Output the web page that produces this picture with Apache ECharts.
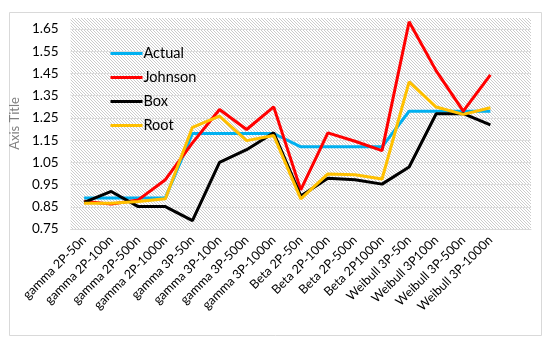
<!DOCTYPE html>
<html>
<head>
<meta charset="utf-8">
<script src="https://cdn.jsdelivr.net/npm/echarts@6/dist/echarts.min.js"></script>
<style>html,body{margin:0;padding:0;background:#fff;}#c{width:550px;height:342px;}</style>
</head>
<body>
<div id="c"></div>
<script>
const categories = ['gamma 2P-50n','gamma 2P-100n','gamma 2P-500n','gamma 2P-1000n','gamma 3P-50n','gamma 3P-100n','gamma 3P-500n','gamma 3P-1000n','Beta 2P-50n','Beta 2P-100n','Beta 2P-500n','Beta 2P1000n','Weibull 3P-50n','Weibull 3P100n','Weibull 3P-500n','Weibull 3P-1000n'];
const actual  = [0.89,0.89,0.89,0.89,1.18,1.18,1.18,1.18,1.12,1.12,1.12,1.12,1.28,1.28,1.28,1.28];
const johnson = [0.875,0.862,0.881,0.972,1.138,1.288,1.198,1.300,0.926,1.183,1.145,1.103,1.683,1.462,1.281,1.444];
const box     = [0.870,0.919,0.851,0.851,0.788,1.050,1.107,1.183,0.899,0.979,0.972,0.952,1.029,1.269,1.269,1.219];
const root    = [0.866,0.866,0.874,0.886,1.208,1.258,1.148,1.171,0.886,0.998,0.994,0.975,1.412,1.299,1.266,1.296];
const yTicks  = [0.75,0.85,0.95,1.05,1.15,1.25,1.35,1.45,1.55,1.65];

// hatch pattern
const tile = document.createElement('canvas');
tile.width = 3; tile.height = 3;
const tctx = tile.getContext('2d');
tctx.fillStyle = '#ffffff'; tctx.fillRect(0,0,3,3);
tctx.fillStyle = '#cbcbcb';
for (let i = 0; i < 3; i++) tctx.fillRect(i, i, 1, 1);

const font = 'Lato';
const chart = echarts.init(document.getElementById('c'));
const mk = (name, data, color) => ({
  name, type: 'line', data, symbol: 'none', smooth: false,
  lineStyle: { width: 3, color }, itemStyle: { color }
});
chart.setOption({
  animation: false,
  backgroundColor: '#fff',
  textStyle: { fontFamily: font },
  graphic: [{
    type: 'rect', left: 7, top: 10, z: -10, silent: true,
    shape: { width: 532, height: 323 },
    style: { fill: 'none', stroke: '#d9d9d9', lineWidth: 1 }
  }],
  grid: {
    left: 65, right: 19, top: 18, bottom: 113,
    show: true, borderWidth: 0,
    backgroundColor: { image: tile, repeat: 'repeat' }
  },
  legend: {
    orient: 'vertical', left: 104, top: 41,
    itemWidth: 32, itemHeight: 14, itemGap: 9,
    itemStyle: { opacity: 0 },
    lineStyle: { width: 3 },
    textStyle: { fontFamily: font, fontSize: 14.5, color: '#000', padding: [0,0,0,-4] },
    data: ['Actual','Johnson','Box','Root']
  },
  xAxis: {
    type: 'category', boundaryGap: true,
    data: categories.concat(['']),
    axisLine: { lineStyle: { color: '#d9d9d9', width: 1 } },
    axisTick: { show: false },
    axisLabel: { rotate: 45, interval: 0, color: '#000', fontSize: 12.5, fontFamily: font, margin: 9 }
  },
  yAxis: {
    type: 'value', min: 0.75, max: 1.70,
    name: 'Axis Title', nameLocation: 'middle', nameGap: 38,
    nameTextStyle: { color: '#808080', fontSize: 13, fontFamily: font },
    axisLine: { show: false },
    axisTick: { show: false, customValues: yTicks },
    axisLabel: { customValues: yTicks, color: '#000', fontSize: 13.5, fontFamily: font, margin: 12,
      formatter: v => v.toFixed(2) },
    splitLine: { show: true, lineStyle: { color: '#dcdcdc', width: 1 } }
  },
  series: [
    mk('Actual', actual, '#00b0f0'),
    mk('Johnson', johnson, '#ff0000'),
    mk('Box', box, '#000000'),
    mk('Root', root, '#ffc000')
  ]
});
</script>
</body>
</html>
